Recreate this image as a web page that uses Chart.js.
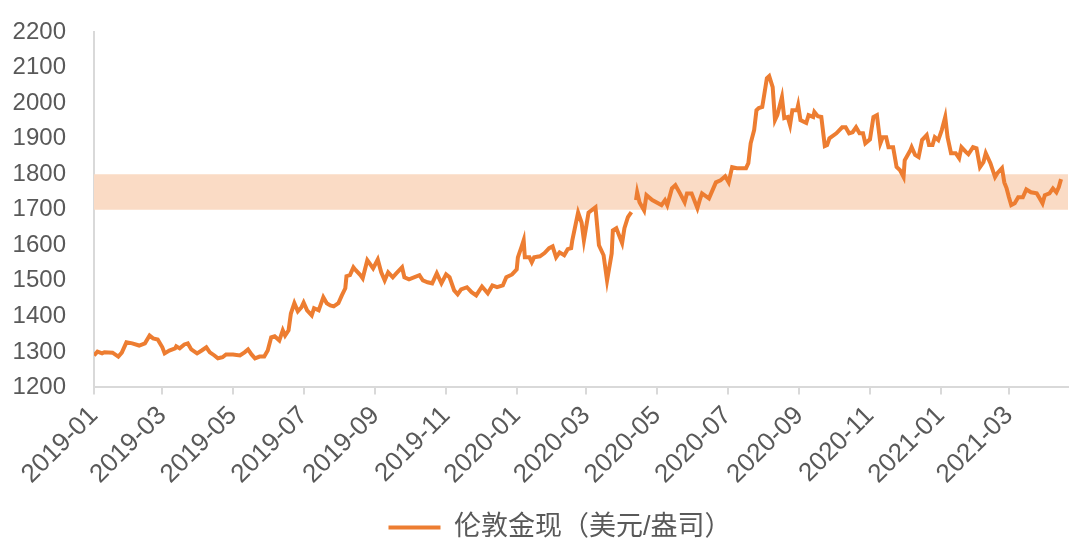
<!DOCTYPE html>
<html>
<head>
<meta charset="utf-8">
<script src="https://cdn.jsdelivr.net/npm/chart.js@4"></script>
<style>
  html, body { margin: 0; padding: 0; background: #fff; }
  #wrap { width: 1080px; height: 551px; }
</style>
</head>
<body>
<div id="wrap"><canvas id="goldChart"></canvas></div>
<script>
const seriesName = "伦敦金现（美元/盎司）";

const dates = [
  "2019-01-01","2019-01-04","2019-01-08","2019-01-10","2019-01-17","2019-01-22","2019-01-25","2019-01-29",
  "2019-02-03","2019-02-09","2019-02-14","2019-02-18","2019-02-21","2019-02-25","2019-03-01","2019-03-03",
  "2019-03-07","2019-03-12","2019-03-13","2019-03-16","2019-03-20","2019-03-23","2019-03-26","2019-03-31",
  "2019-04-04","2019-04-08","2019-04-11","2019-04-15","2019-04-18","2019-04-22","2019-04-25","2019-05-01",
  "2019-05-07","2019-05-11","2019-05-14","2019-05-17","2019-05-20","2019-05-24","2019-05-28","2019-05-31",
  "2019-06-03","2019-06-06","2019-06-10","2019-06-13","2019-06-15","2019-06-18","2019-06-20","2019-06-23",
  "2019-06-26","2019-06-29","2019-07-01","2019-07-04","2019-07-08","2019-07-10","2019-07-14","2019-07-18",
  "2019-07-21","2019-07-24","2019-07-27","2019-07-31","2019-08-03","2019-08-06","2019-08-07","2019-08-10",
  "2019-08-13","2019-08-15","2019-08-19","2019-08-21","2019-08-25","2019-08-27","2019-08-30","2019-09-03",
  "2019-09-06","2019-09-09","2019-09-12","2019-09-16","2019-09-19","2019-09-24","2019-09-26","2019-09-30",
  "2019-10-09","2019-10-12","2019-10-16","2019-10-20","2019-10-24","2019-10-28","2019-11-01","2019-11-04",
  "2019-11-08","2019-11-11","2019-11-14","2019-11-19","2019-11-23","2019-11-27","2019-12-02","2019-12-07",
  "2019-12-11","2019-12-15","2019-12-20","2019-12-23","2019-12-28","2020-01-01","2020-01-02","2020-01-05",
  "2020-01-07","2020-01-08","2020-01-12","2020-01-14","2020-01-16","2020-01-21","2020-01-25","2020-01-29",
  "2020-02-01","2020-02-04","2020-02-07","2020-02-11","2020-02-14","2020-02-17","2020-02-18","2020-02-23",
  "2020-02-26","2020-02-28","2020-03-03","2020-03-09","2020-03-12","2020-03-16","2020-03-19","2020-03-23",
  "2020-03-24","2020-03-27","2020-04-01","2020-04-03","2020-04-06","2020-04-09","2020-04-11","2020-04-13",
  "2020-04-14","2020-04-16","2020-04-20","2020-04-22","2020-04-27","2020-05-05","2020-05-08","2020-05-10",
  "2020-05-14","2020-05-17","2020-05-21","2020-05-25","2020-05-27","2020-05-31","2020-06-05","2020-06-07",
  "2020-06-09","2020-06-15","2020-06-21","2020-06-25","2020-06-29","2020-07-02","2020-07-05","2020-07-09",
  "2020-07-17","2020-07-19","2020-07-21","2020-07-24","2020-07-26","2020-07-28","2020-07-31","2020-08-04",
  "2020-08-06","2020-08-09","2020-08-11","2020-08-13","2020-08-17","2020-08-19","2020-08-22","2020-08-24",
  "2020-08-26","2020-08-30","2020-08-31","2020-09-02","2020-09-07","2020-09-09","2020-09-13","2020-09-14",
  "2020-09-17","2020-09-20","2020-09-23","2020-09-25","2020-09-27","2020-10-03","2020-10-08","2020-10-11",
  "2020-10-14","2020-10-17","2020-10-20","2020-10-23","2020-10-26","2020-10-28","2020-11-01","2020-11-04",
  "2020-11-07","2020-11-10","2020-11-12","2020-11-15","2020-11-17","2020-11-21","2020-11-24","2020-11-27",
  "2020-11-30","2020-12-01","2020-12-06","2020-12-07","2020-12-10","2020-12-13","2020-12-16","2020-12-20",
  "2020-12-22","2020-12-25","2020-12-27","2020-12-30","2021-01-02","2021-01-05","2021-01-07","2021-01-10",
  "2021-01-14","2021-01-17","2021-01-19","2021-01-23","2021-01-25","2021-01-29","2021-02-01","2021-02-04",
  "2021-02-07","2021-02-09","2021-02-13","2021-02-17","2021-02-19","2021-02-23","2021-02-25","2021-02-27",
  "2021-03-01","2021-03-03","2021-03-06","2021-03-09","2021-03-13","2021-03-16","2021-03-20","2021-03-25",
  "2021-03-27","2021-03-30","2021-04-01","2021-04-05","2021-04-08","2021-04-11","2021-04-13","2021-04-15"
];

const goldPrice = [
  1290,1301,1296,1299,1298,1287,1298,1327,
  1324,1318,1324,1346,1338,1335,1313,1296,
  1304,1310,1316,1310,1321,1324,1307,1296,
  1304,1313,1299,1290,1282,1285,1293,1293,
  1290,1299,1307,1293,1282,1287,1287,1304,
  1341,1344,1332,1361,1346,1361,1408,1437,
  1414,1425,1439,1417,1403,1423,1417,1454,
  1437,1431,1428,1437,1459,1479,1513,1516,
  1538,1530,1516,1507,1558,1549,1535,1560,
  1524,1501,1524,1510,1521,1538,1510,1504,
  1516,1501,1496,1493,1521,1493,1518,1510,
  1473,1462,1476,1482,1468,1459,1484,1465,
  1487,1482,1487,1510,1518,1532,1566,1594,
  1614,1566,1566,1552,1566,1569,1578,1592,
  1597,1566,1580,1572,1589,1592,1614,1692,
  1664,1614,1692,1707,1600,1572,1501,1577,
  1642,1648,1606,1648,1679,1693,null,1727,
  1749,1721,1698,1741,1727,1713,1727,1713,
  1760,1769,1746,1721,1746,1746,1704,1727,
  1746,1732,1777,1783,1794,1777,1820,1817,
  1817,1831,1887,1924,1980,1986,1989,2070,
  2076,2045,1952,1966,2017,1958,1961,1938,
  1980,1980,1994,1952,1944,1966,1961,1975,
  1963,1961,1879,1882,1901,1915,1932,1932,
  1915,1918,1932,1915,1915,1887,1898,1961,
  1966,1887,1904,1904,1876,1876,1820,1811,
  1792,1839,1868,1876,1854,1848,1896,1910,
  1882,1882,1904,1896,1924,1961,1904,1859,
  1859,1845,1876,1862,1856,1876,1873,1820,
  1834,1859,1831,1792,1803,1817,1777,1760,
  1735,1713,1718,1735,1735,1757,1749,1746,
  1735,1718,1741,1746,1760,1749,1763,1786
];

const tickLabels = ["2019-01","2019-03","2019-05","2019-07","2019-09","2019-11","2020-01",
  "2020-03","2020-05","2020-07","2020-09","2020-11","2021-01","2021-03"];

const bandLow = 1700;
const bandHigh = 1800;
const axisStart = "2019-01-01";
const axisEnd = "2021-04-21";

function dayOf(str) {
  const p = str.split("-").map(Number);
  return (Date.UTC(p[0], p[1] - 1, p[2] || 1) - Date.UTC(2019, 0, 1)) / 86400000;
}

const points = dates.map((d, i) => ({ x: dayOf(d), y: goldPrice[i] }));
const tickDays = tickLabels.map((t) => dayOf(t));
const xMin = dayOf(axisStart);
const xMax = dayOf(axisEnd);

const textColor = "#595959";
const axisColor = "#d9d9d9";
const fontFamily = "'Liberation Sans', Arial, 'Noto Sans CJK SC', sans-serif";

// legend in the original sits a bit right of the canvas centre
const legendShift = {
  id: "legendShift",
  afterLayout(chart) {
    chart.legend.left += 20;
    chart.legend.right += 20;
  },
};

new Chart(document.getElementById("goldChart"), {
  type: "line",
  data: {
    datasets: [
      {
        label: seriesName,
        data: points,
        borderColor: "#ED7D31",
        backgroundColor: "#ED7D31",
        borderWidth: 4,
        pointRadius: 0,
        tension: 0,
        spanGaps: false,
        fill: false,
        order: 0,
      },
      {
        label: "band",
        data: [{ x: xMin, y: bandHigh }, { x: xMax, y: bandHigh }],
        borderWidth: 0,
        borderColor: "rgba(0,0,0,0)",
        backgroundColor: "rgba(250,219,197,1)",
        pointRadius: 0,
        fill: { value: bandLow },
        order: 1,
      },
    ],
  },
  options: {
    responsive: true,
    maintainAspectRatio: false,
    animation: false,
    layout: { padding: { top: 32, right: 12, left: 12, bottom: 0 } },
    scales: {
      x: {
        type: "linear",
        min: xMin,
        max: xMax,
        afterBuildTicks: (axis) => {
          axis.ticks = tickDays.map((v) => ({ value: v }));
        },
        afterFit: (axis) => {
          // rotated labels may hang past the left edge like in the original
          axis.paddingLeft = 0;
          axis.paddingRight = 0;
        },
        ticks: {
          callback: (value) => tickLabels[tickDays.indexOf(value)],
          color: textColor,
          font: { family: fontFamily, size: 26 },
          minRotation: 45,
          maxRotation: 45,
          autoSkip: false,
          padding: 6,
        },
        grid: { drawOnChartArea: false, color: axisColor, lineWidth: 2, tickLength: 7 },
        border: { color: axisColor, width: 2 },
      },
      y: {
        min: 1200,
        max: 2200,
        afterFit: (axis) => {
          axis.width = 82;
          axis.paddingTop = 0;
          axis.paddingBottom = 0;
        },
        ticks: {
          stepSize: 100,
          callback: (value) => String(value),
          color: textColor,
          font: { family: fontFamily, size: 24 },
          padding: 28,
        },
        grid: { drawOnChartArea: false, drawTicks: false },
        border: { color: axisColor, width: 2 },
      },
    },
    plugins: {
      legend: {
        position: "bottom",
        labels: {
          filter: (item) => item.datasetIndex === 0,
          usePointStyle: true,
          pointStyle: "line",
          pointStyleWidth: 52,
          color: textColor,
          font: { family: fontFamily, size: 27 },
          padding: 18,
        },
      },
      tooltip: { enabled: false },
    },
  },
  plugins: [legendShift],
});
</script>
</body>
</html>
